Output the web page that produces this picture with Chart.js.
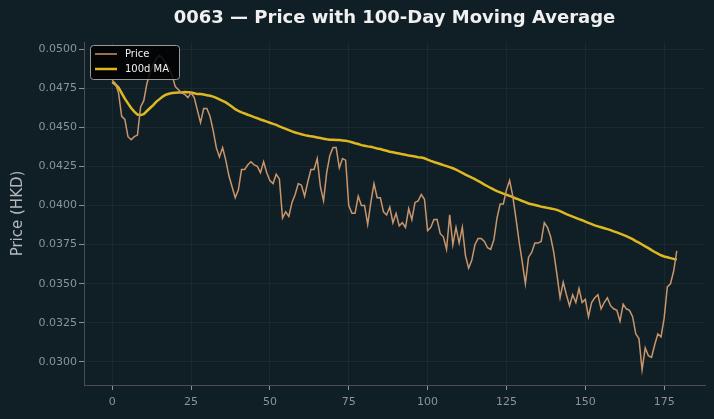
<!DOCTYPE html>
<html>
<head>
<meta charset="utf-8">
<script src="https://cdn.jsdelivr.net/npm/chart.js@4.4.1/dist/chart.umd.min.js"></script>
<style>
html,body{margin:0;padding:0;background:#101f26;}
canvas{display:block;}
</style>
</head>
<body>
<canvas id="c" width="714" height="419"></canvas>
<script>
const chartTitle = "0063 \u2014 Price with 100-Day Moving Average";
const yAxisTitle = "Price (HKD)";
const seriesNames = ["Price", "100d MA"];
const xTicks = [0, 25, 50, 75, 100, 125, 150, 175];
const yTicks = [0.0300, 0.0325, 0.0350, 0.0375, 0.0400, 0.0425, 0.0450, 0.0475, 0.0500];

const price = [
0.0480,0.0478,0.0472,0.0457,0.0455,0.0444,0.0442,0.0444,0.0445,0.0463,
0.0467,0.0478,0.0485,0.0490,0.0494,0.0496,0.0494,0.0491,0.0488,0.0483,
0.0476,0.0474,0.0472,0.0471,0.0469,0.0472,0.0469,0.0461,0.0453,0.0462,
0.0462,0.0457,0.0448,0.0437,0.0431,0.0437,0.0429,0.0419,0.0412,0.0405,
0.0410,0.0423,0.0423,0.0426,0.0428,0.0426,0.0425,0.0421,0.0428,0.0421,
0.0416,0.0414,0.0420,0.0417,0.0392,0.0396,0.0393,0.0402,0.0407,0.0414,
0.0413,0.0406,0.0415,0.0423,0.0423,0.0430,0.0412,0.0403,0.0421,0.0432,
0.0437,0.0437,0.0424,0.0430,0.0429,0.0400,0.0395,0.0395,0.0406,0.0400,
0.0400,0.0388,0.0402,0.0414,0.0405,0.0405,0.0396,0.0394,0.0399,0.0389,
0.0395,0.0387,0.0389,0.0386,0.0398,0.0391,0.0402,0.0403,0.0407,0.0404,
0.0384,0.0386,0.0391,0.0391,0.0382,0.0380,0.0372,0.0394,0.0375,0.0386,
0.0376,0.0386,0.0368,0.0360,0.0365,0.0375,0.0379,0.0379,0.0377,0.0373,
0.0372,0.0378,0.0392,0.0401,0.0401,0.0410,0.0416,0.0406,0.0392,0.0377,
0.0364,0.0350,0.0367,0.0370,0.0376,0.0376,0.0377,0.0389,0.0386,0.0380,
0.0370,0.0356,0.0341,0.0351,0.0343,0.0336,0.0343,0.0338,0.0347,0.0338,
0.0340,0.0329,0.0338,0.0341,0.0343,0.0334,0.0338,0.0341,0.0336,0.0334,
0.0333,0.0326,0.0337,0.0334,0.0333,0.0329,0.0318,0.0315,0.0295,0.0309,
0.0304,0.0303,0.0311,0.0318,0.0316,0.0328,0.0348,0.0350,0.0358,0.0371
];

const ma100 = [
0.04789,0.04773,0.04754,0.04719,0.04683,0.04653,0.04623,0.04600,0.04581,0.04578,
0.04584,0.04604,0.04623,0.04642,0.04664,0.04680,0.04696,0.04708,0.04714,0.04719,
0.04721,0.04722,0.04723,0.04725,0.04724,0.04722,0.04717,0.04712,0.04712,0.04709,
0.04705,0.04701,0.04696,0.04688,0.04678,0.04669,0.04659,0.04645,0.04631,0.04616,
0.04604,0.04595,0.04588,0.04580,0.04573,0.04565,0.04558,0.04550,0.04543,0.04536,
0.04529,0.04522,0.04515,0.04506,0.04498,0.04490,0.04482,0.04474,0.04467,0.04461,
0.04455,0.04450,0.04446,0.04442,0.04439,0.04435,0.04431,0.04427,0.04423,0.04421,
0.04420,0.04419,0.04418,0.04416,0.04414,0.04410,0.04404,0.04398,0.04393,0.04386,
0.04382,0.04378,0.04375,0.04370,0.04365,0.04361,0.04355,0.04350,0.04344,0.04340,
0.04336,0.04332,0.04328,0.04324,0.04319,0.04316,0.04313,0.04309,0.04307,0.04302,
0.04293,0.04285,0.04278,0.04272,0.04265,0.04258,0.04252,0.04245,0.04238,0.04229,
0.04219,0.04208,0.04198,0.04188,0.04178,0.04169,0.04157,0.04146,0.04134,0.04123,
0.04112,0.04102,0.04092,0.04084,0.04076,0.04069,0.04062,0.04054,0.04045,0.04038,
0.04029,0.04022,0.04013,0.04008,0.04003,0.03998,0.03993,0.03989,0.03985,0.03981,
0.03977,0.03972,0.03964,0.03955,0.03945,0.03937,0.03929,0.03921,0.03913,0.03906,
0.03897,0.03889,0.03881,0.03873,0.03867,0.03861,0.03855,0.03849,0.03843,0.03835,
0.03828,0.03820,0.03812,0.03804,0.03795,0.03785,0.03773,0.03763,0.03751,0.03739,
0.03728,0.03715,0.03703,0.03692,0.03682,0.03674,0.03669,0.03664,0.03659,0.03655
];

const days = price.map((_, i) => i);

const BG = '#101f26';
const PRICE_COLOR = '#c9966b';
const MA_COLOR = '#dfb820';
const FONT = "'DejaVu Sans', sans-serif";

const bgPlugin = {
  id: 'bg',
  beforeDraw(chart) {
    const ctx = chart.ctx;
    ctx.save();
    ctx.fillStyle = BG;
    ctx.fillRect(0, 0, chart.width, chart.height);
    ctx.restore();
  },
  afterDraw(chart) {
    const ctx = chart.ctx;
    const a = chart.chartArea;
    ctx.save();
    ctx.fillStyle = '#f0f0f0';
    ctx.font = "bold 18px " + FONT;
    ctx.textAlign = 'center';
    ctx.textBaseline = 'middle';
    ctx.fillText(chartTitle, (a.left + a.right) / 2, 18);
    ctx.restore();
    const x0 = a.left + 6, y0 = a.top + 3, w = 89, h = 34;
    ctx.save();
    ctx.beginPath();
    if (ctx.roundRect) ctx.roundRect(x0 + 0.5, y0 + 0.5, w, h, 3); else ctx.rect(x0 + 0.5, y0 + 0.5, w, h);
    ctx.fillStyle = 'rgba(0,0,0,0.85)';
    ctx.fill();
    ctx.strokeStyle = '#9a9a9a';
    ctx.lineWidth = 1;
    ctx.stroke();
    const ds = chart.data.datasets;
    ctx.font = "10px " + FONT;
    ctx.textBaseline = 'middle';
    ctx.textAlign = 'left';
    ds.forEach((d, k) => {
      const yy = y0 + 9 + k * 15;
      ctx.beginPath();
      ctx.moveTo(x0 + 5, yy);
      ctx.lineTo(x0 + 27, yy);
      ctx.strokeStyle = d.borderColor;
      ctx.lineWidth = d.borderWidth;
      ctx.stroke();
      ctx.fillStyle = '#f0f0f0';
      ctx.fillText(d.label, x0 + 35, yy);
    });
    ctx.restore();
  }
};

new Chart(document.getElementById('c'), {
  type: 'line',
  data: {
    datasets: [
      {
        label: seriesNames[0],
        data: days.map((d, i) => ({ x: d, y: price[i] })),
        borderColor: PRICE_COLOR,
        borderWidth: 1.5,
        pointRadius: 0,
        tension: 0,
        fill: false
      },
      {
        label: seriesNames[1],
        data: days.map((d, i) => ({ x: d, y: ma100[i] })),
        borderColor: MA_COLOR,
        borderWidth: 2.5,
        pointRadius: 0,
        tension: 0,
        fill: false
      }
    ]
  },
  options: {
    responsive: false,
    animation: false,
    layout: { padding: { top: 42, right: 9, left: 9, bottom: 0 } },
    plugins: {
      legend: { display: false },
      title: { display: false },
      tooltip: { enabled: false }
    },
    scales: {
      x: {
        type: 'linear',
        min: -8.95,
        max: 187.95,
        afterBuildTicks(s) { s.ticks = xTicks.map(v => ({ value: v })); },
        afterFit(s) { s.height = 34; },
        grid: { color: 'rgba(255,255,255,0.045)', tickColor: '#8a9398', tickLength: 5, drawOnChartArea: true },
        border: { color: '#4d4d4d', width: 1 },
        ticks: { color: '#8a9398', font: { family: FONT, size: 11 }, padding: 6, maxRotation: 0 }
      },
      y: {
        type: 'linear',
        min: 0.02853,
        max: 0.05045,
        afterBuildTicks(s) { s.ticks = yTicks.map(v => ({ value: v })); },
        afterFit(s) { s.width = 75; },
        grid: { color: 'rgba(255,255,255,0.045)', tickColor: '#8a9398', tickLength: 5 },
        border: { color: '#4d4d4d', width: 1 },
        ticks: {
          color: '#8a9398',
          font: { family: FONT, size: 11 },
          padding: 2,
          callback: v => Number(v).toFixed(4)
        },
        title: {
          display: true,
          text: yAxisTitle,
          color: '#b4babd',
          font: { family: FONT, size: 15 },
          padding: { top: 0, bottom: 6 }
        }
      }
    }
  },
  plugins: [bgPlugin]
});
</script>
</body>
</html>
